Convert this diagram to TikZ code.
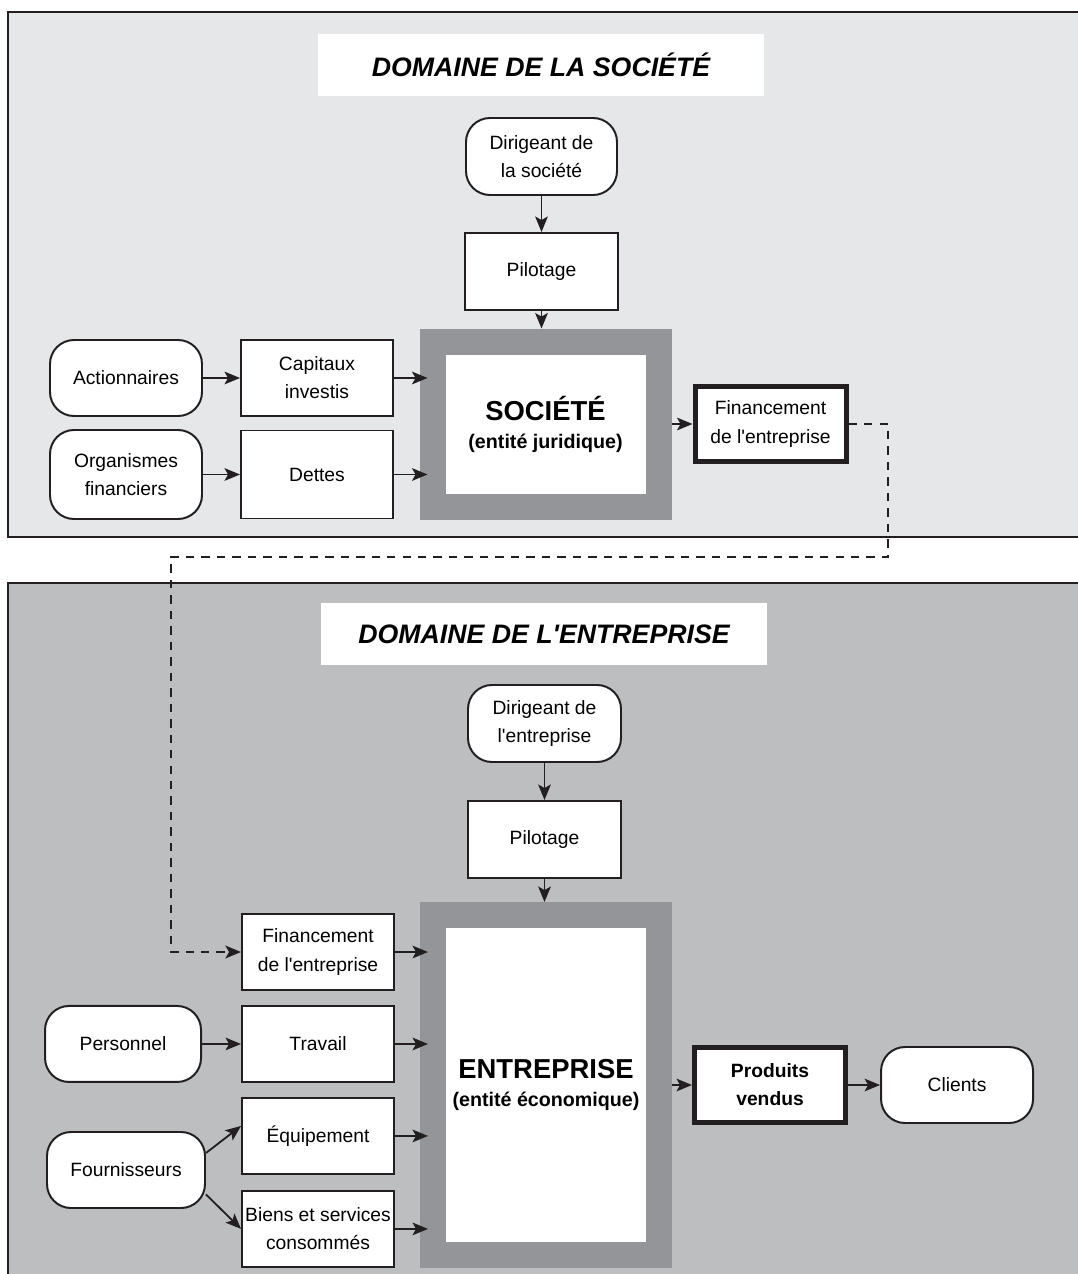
\documentclass[tikz,border=0pt]{standalone}
\usepackage{fontspec}
\setmainfont{Liberation Sans}
\usepackage{tikz}
\usetikzlibrary{calc,positioning,arrows.meta}

\definecolor{paneltop}{HTML}{E6E7E8}
\definecolor{panelbot}{HTML}{BCBEC0}
\definecolor{framegray}{HTML}{939598}
\definecolor{ink}{HTML}{231F20}

\begin{document}
\begin{tikzpicture}[>={Stealth[length=11pt,width=9pt,inset=2.5pt]},
	font=\fontsize{13.7}{20}\selectfont,
	box/.style={draw=ink, line width=1.4pt, fill=white, align=center, inner sep=1pt, minimum width=3.8cm, minimum height=1.9cm},
	actor/.style={box, rounded corners=0.6cm},
	thickbox/.style={box, line width=3.6pt, minimum width=3.775cm, minimum height=1.875cm},
	entity/.style={draw=framegray, line width=0.65cm, outer sep=0.325cm, fill=white, align=center, minimum width=5.65cm, font=\fontsize{14}{20}\selectfont\bfseries},
	titlebox/.style={fill=white, minimum width=11.15cm, minimum height=1.55cm, font=\fontsize{19}{24}\selectfont\bfseries\itshape},
	flow/.style={->, ink, line width=1.3pt},
	link/.style={->, ink, line width=2pt, dash pattern=on 6pt off 5pt}]
	\useasboundingbox (0,0) rectangle (26.925,-31.85);

	% the two domains
	\draw[ink, line width=2pt, fill=paneltop] (0.2,-0.3) rectangle (27.5,-13.425);
	\draw[ink, line width=2pt, fill=panelbot] (0.2,-14.575) rectangle (27.5,-32.5);

	% domaine de la societe
	\node[titlebox] (titsoc) at (13.525,-1.625) {DOMAINE DE LA SOCIÉTÉ};
	\node[actor, minimum width=3.775cm, minimum height=1.925cm] (dirsoc) at (13.5375,-3.9125) {Dirigeant de\\la société};
	\node[box, minimum width=3.825cm, minimum height=1.925cm, below = 0.9cm of dirsoc] (pilsoc) {Pilotage};
	\node[entity, minimum height=4.125cm] (societe) at (13.6375,-10.6) {{\fontsize{19.5}{24}\selectfont SOCIÉTÉ}\\(entité juridique)};
	\node[actor] (actio) at (3.15,-9.45) {Actionnaires};
	\node[box, right = 0.925cm of actio] (capitaux) {Capitaux\\investis};
	\node[actor, minimum height=2.225cm] (orga) at (3.15,-11.8625) {Organismes\\financiers};
	\node[box, minimum height=2.2cm, right = 0.925cm of orga] (dettes) {Dettes};
	\node[thickbox, right = 0.525cm of societe] (finsoc) {Financement\\de l\textquotesingle entreprise};

	\draw[flow] (dirsoc) -- (pilsoc);
	\draw[flow] (pilsoc) -- (pilsoc |- societe.north);
	\draw[flow] (actio) -- (capitaux);
	\draw[flow] (orga) -- (dettes);
	\draw[flow, shorten >=-0.2cm] (capitaux) -- (capitaux -| societe.west);
	\draw[flow, shorten >=-0.2cm] (dettes) -- (dettes -| societe.west);
	\draw[flow] (finsoc.west -| societe.east) -- (finsoc.west);

	% domaine de l'entreprise
	\node[titlebox] (titent) at (13.6,-15.85) {DOMAINE DE L\textquotesingle ENTREPRISE};
	\node[actor, minimum width=3.825cm, minimum height=1.925cm] (dirent) at (13.6125,-18.0875) {Dirigeant de\\l\textquotesingle entreprise};
	\node[box, minimum width=3.825cm, minimum height=1.925cm, below = 0.925cm of dirent] (pilent) {Pilotage};
	\node[entity, minimum height=8.5cm] (entreprise) at (13.65,-27.125) {{\fontsize{19.5}{24}\selectfont ENTREPRISE}\\(entité économique)};
	\node[box] (finent) at (7.95,-23.8) {Financement\\de l\textquotesingle entreprise};
	\node[box, below = 0.35cm of finent] (travail) {Travail};
	\node[box, below = 0.35cm of travail] (equip) {Équipement};
	\node[box, below = 0.375cm of equip] (biens) {Biens et services\\consommés};
	\node[actor, minimum width=3.9cm, left = 0.975cm of travail] (perso) {Personnel};
	\node[actor, minimum width=3.95cm] (fourn) at (3.15,-29.25) {Fournisseurs};
	\node[thickbox, font=\fontsize{13.7}{20}\selectfont\bfseries, right = 0.5cm of entreprise] (produits) {Produits\\vendus};
	\node[actor, right = 0.8cm of produits] (clients) {Clients};

	\draw[flow] (dirent) -- (pilent);
	\draw[flow] (pilent) -- (pilent |- entreprise.north);
	\draw[flow] (perso) -- (travail);
	\draw[flow] (fourn.12) -- ([yshift=0.25cm]equip.west);
	\draw[flow] (fourn.-17) -- (biens.west);
	\foreach \src in {finent,travail,equip,biens}
		\draw[flow, shorten >=-0.2cm] (\src) -- (\src -| entreprise.west);
	\draw[flow] (produits.west -| entreprise.east) -- (produits.west);
	\draw[flow] (produits) -- (clients);

	% financement passes from one domain to the other
	\coordinate (gapR) at (22.2,-13.925);
	\coordinate (gapL) at (4.275,-13.925);
	\draw[link] (finsoc.east) -| (gapR) -- (gapL) |- (finent.west);
\end{tikzpicture}
\end{document}
